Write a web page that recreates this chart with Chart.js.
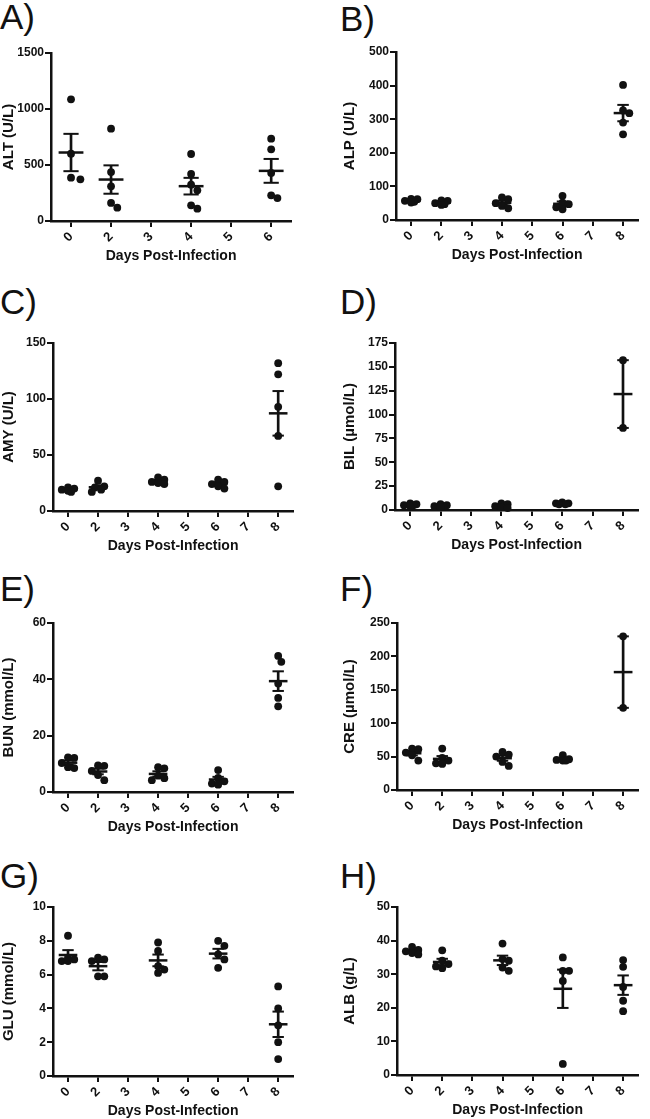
<!DOCTYPE html>
<html>
<head>
<meta charset="utf-8">
<script src="https://cdn.jsdelivr.net/npm/chart.js@4.4.1/dist/chart.umd.min.js"></script>
<style>
  body { margin: 0; width: 650px; height: 1119px; background: #fff; position: relative; overflow: hidden; font-family: Arial, "Liberation Sans", Helvetica, sans-serif; }
  .panel-label { position: absolute; font-size: 35px; line-height: 35px; color: #111; }
  canvas { position: absolute; }
</style>
</head>
<body>
<script>
// x categories
const daysShort = ['0', '2', '3', '4', '5', '6'];
const daysLong = ['0', '2', '3', '4', '5', '6', '7', '8'];

// one inner array per day label, empty = no sample that day
const altValues = [[1086, 601, 387, 372], [824, 437, 310, 161, 119], [], [598, 420, 324, 274, 140, 110], [], [735, 640, 429, 229, 205]];
const alpValues = [[63, 62, 57, 54, 52], [58, 57, 50, 47, 45], [], [67, 62, 50, 42, 35], [], [72, 52, 47, 38, 32], [], [402, 326, 318, 290, 255]];
const amyValues = [[21, 20, 19, 18, 17], [27, 22, 21, 19, 17], [], [30, 28, 26, 25, 24], [], [28, 26, 24, 22, 20], [], [132, 122, 93, 67, 22]];
const bilValues = [[7, 6, 5, 5, 4], [6, 5, 4, 3, 3], [], [7, 6, 4, 3, 2], [], [8, 7, 7, 6, 6], [], [157, 86]];
const bunValues = [[12.3, 12.1, 10.3, 8.8, 8.5], [9.4, 9.3, 7.5, 6.0, 4.2], [], [8.8, 8.4, 5.8, 4.9, 4.2], [], [7.8, 5.0, 3.8, 3.0, 2.6], [], [48.3, 46.2, 38.5, 33.4, 30.4]];
const creValues = [[62, 61, 56, 52, 44], [62, 48, 44, 40, 39], [], [57, 53, 50, 42, 36], [], [52, 46, 45, 44, 44], [], [230, 123]];
const gluValues = [[8.3, 7.0, 6.9, 6.8, 6.8], [7.0, 6.9, 6.8, 5.9, 5.9], [], [7.9, 7.4, 6.5, 6.3, 6.1], [], [8.0, 7.7, 7.2, 6.9, 6.4], [], [5.3, 4.0, 3.0, 2.0, 1.0]];
const albValues = [[38.1, 37.2, 36.8, 36.3, 35.9], [37.1, 34.0, 33.0, 32.3, 31.8], [], [39.1, 34.5, 34.0, 32.0, 31.0], [], [35.0, 31.0, 31.0, 28.0, 3.3], [], [34.2, 32.2, 26.2, 22.1, 19.0]];

const xTitle = 'Days Post-Infection';
const ink = '#111';
const dotRadius = 3.9;
const fontFamily = 'Arial, "Liberation Sans", Helvetica, sans-serif';

// layout of each panel (plot area edges in page pixels)
const panels = [
  { label: 'A)', yTitle: 'ALT (U/L)', days: daysShort, values: altValues, max: 1500, step: 500, left: 51, right: 303, top: 53, bottom: 221, col: 0, labelTop: 3 },
  { label: 'B)', yTitle: 'ALP (U/L)', days: daysLong, values: alpValues, max: 500, step: 100, left: 396, right: 650, top: 52, bottom: 220, col: 1, labelTop: 5 },
  { label: 'C)', yTitle: 'AMY (U/L)', days: daysLong, values: amyValues, max: 150, step: 50, left: 53, right: 305, top: 343, bottom: 511, col: 0, labelTop: 288 },
  { label: 'D)', yTitle: 'BIL (µmol/L)', days: daysLong, values: bilValues, max: 175, step: 25, left: 395, right: 650, top: 343, bottom: 510, col: 1, labelTop: 288 },
  { label: 'E)', yTitle: 'BUN (mmol/L)', days: daysLong, values: bunValues, max: 60, step: 20, left: 53, right: 305, top: 623, bottom: 792, col: 0, labelTop: 575 },
  { label: 'F)', yTitle: 'CRE (µmol/L)', days: daysLong, values: creValues, max: 250, step: 50, left: 397, right: 650, top: 623, bottom: 790, col: 1, labelTop: 575 },
  { label: 'G)', yTitle: 'GLU (mmol/L)', days: daysLong, values: gluValues, max: 10, step: 2, left: 53, right: 305, top: 907, bottom: 1076, col: 0, labelTop: 862 },
  { label: 'H)', yTitle: 'ALB (g/L)', days: daysLong, values: albValues, max: 50, step: 10, left: 397, right: 650, top: 907, bottom: 1075, col: 1, labelTop: 862 }
];

Chart.defaults.font.family = fontFamily;
Chart.defaults.color = ink;

function groupStats(values) {
  return values.map(g => {
    if (!g.length) return null;
    const mean = g.reduce((a, b) => a + b, 0) / g.length;
    const sd = Math.sqrt(g.reduce((a, b) => a + (b - mean) ** 2, 0) / (g.length - 1));
    return { mean: mean, sem: sd / Math.sqrt(g.length) };
  });
}

// spread overlapping dots sideways (scatter dot plot), within a max half width
const swarm = {
  id: 'swarm',
  afterDatasetsUpdate(chart) {
    const pts = chart.getDatasetMeta(0).data;
    const area = chart.chartArea;
    const limit = (area.right - area.left) / chart.data.labels.length * 0.3;
    const step = dotRadius * 0.8, minDist = dotRadius * 1.7;
    const byX = {};
    pts.forEach(p => {
      const k = Math.round(p.x);
      (byX[k] = byX[k] || []).push(p);
    });
    Object.values(byX).forEach(group => {
      const placed = [];
      group.slice().sort((a, b) => a.y - b.y).forEach(p => {
        const cx = p.x;
        let best = cx, bestGap = -1;
        for (let k = 0; k < 40; k++) {
          const off = Math.ceil(k / 2) * step * (k % 2 ? 1 : -1);
          if (Math.abs(off) > limit) break;
          const x = cx + off;
          const gap = placed.length ? Math.min(...placed.map(q => Math.hypot(q.x - x, q.y - p.y))) : Infinity;
          if (gap >= minDist) { best = x; break; }
          if (gap > bestGap + 0.5) { bestGap = gap; best = x; }
        }
        p.x = best;
        placed.push(p);
      });
    });
  }
};

panels.forEach(p => {
  const lbl = document.createElement('div');
  lbl.className = 'panel-label';
  lbl.textContent = p.label;
  lbl.style.left = (p.col ? 340 : 0) + 'px';
  lbl.style.top = (p.labelTop - 4) + 'px';
  document.body.appendChild(lbl);

  const canvasLeft = p.col ? 341 : 0;
  const padTop = 12, xBox = 44;
  const canvas = document.createElement('canvas');
  canvas.width = p.right - canvasLeft;
  canvas.height = padTop + (p.bottom - p.top) + xBox;
  canvas.style.left = canvasLeft + 'px';
  canvas.style.top = (p.top - padTop) + 'px';
  document.body.appendChild(canvas);

  const stats = groupStats(p.values);
  const points = [], means = [], caps = [], stems = [];
  p.values.forEach((g, i) => {
    g.forEach(v => points.push({ x: p.days[i], y: v }));
    const s = stats[i];
    if (!s) return;
    means.push({ x: p.days[i], y: s.mean });
    caps.push({ x: p.days[i], y: s.mean - s.sem }, { x: p.days[i], y: s.mean + s.sem });
    stems.push({ x: p.days[i], y: [s.mean - s.sem, s.mean + s.sem] });
  });

  const catWidth = c => {
    const a = c.chart.chartArea;
    return a ? (a.right - a.left) / p.days.length : 30;
  };

  new Chart(canvas.getContext('2d'), {
    type: 'bar',
    data: {
      labels: p.days,
      datasets: [
        { type: 'line', data: points, showLine: false, pointRadius: dotRadius, pointBorderWidth: 0, pointBackgroundColor: ink, clip: false },
        { type: 'line', data: means, showLine: false, pointStyle: 'line', pointRadius: c => catWidth(c) * 0.31, pointBorderWidth: 2.5, pointBorderColor: ink, clip: false },
        { type: 'line', data: caps, showLine: false, pointStyle: 'line', pointRadius: c => catWidth(c) * 0.19, pointBorderWidth: 2, pointBorderColor: ink, clip: false },
        { type: 'bar', data: stems, barThickness: 2, backgroundColor: ink, borderWidth: 0 }
      ]
    },
    options: {
      responsive: false,
      animation: false,
      events: [],
      layout: { padding: { top: padTop, right: 0, bottom: 0, left: 0 } },
      plugins: { legend: { display: false }, tooltip: { enabled: false } },
      scales: {
        x: {
          type: 'category',
          offset: true,
          border: { display: true, color: ink, width: 2.5 },
          grid: { display: true, drawOnChartArea: false, drawTicks: true, tickLength: 6, color: ink, lineWidth: 2, offset: false },
          ticks: { autoSkip: false, minRotation: 45, maxRotation: 45, padding: 2, font: { size: 13, weight: 'bold' } },
          title: { display: true, text: xTitle, padding: 0, font: { size: 14, weight: 'bold' } },
          afterFit: s => { s.height = xBox; }
        },
        y: {
          min: 0,
          max: p.max,
          border: { display: true, color: ink, width: 2.5 },
          grid: { display: true, drawOnChartArea: false, drawTicks: true, tickLength: 6, color: ink, lineWidth: 2 },
          ticks: { stepSize: p.step, padding: 1, font: { size: 12, weight: 'bold' }, callback: v => String(v) },
          title: { display: true, text: p.yTitle, padding: 0, font: { size: 15, weight: 'bold' } },
          afterFit: s => { s.width = p.left - canvasLeft; }
        }
      }
    },
    plugins: [swarm]
  });
});
</script>
</body>
</html>
